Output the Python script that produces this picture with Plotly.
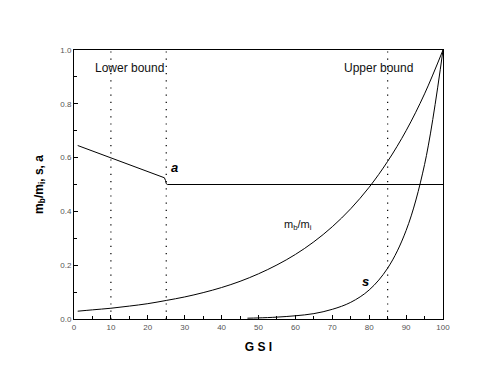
import plotly.graph_objects as go

# GSI values and read curve values
gsi_mb = [1, 5, 10, 15, 20, 25, 30, 35, 40, 45, 50, 55, 60, 65, 70, 75, 80, 85, 90, 95, 100]
mb_mi = [0.029, 0.034, 0.040, 0.048, 0.057, 0.069, 0.082, 0.098, 0.117, 0.140, 0.168,
         0.201, 0.240, 0.287, 0.343, 0.410, 0.490, 0.586, 0.700, 0.837, 1.0]

gsi_s = [47, 50, 55, 60, 65, 70, 75, 80, 85, 90, 95, 100]
s_vals = [0.003, 0.004, 0.007, 0.012, 0.020, 0.036, 0.062, 0.108, 0.189, 0.329, 0.574, 1.0]

gsi_a = [1, 5, 10, 15, 20, 24, 24.5, 24.8, 25, 25.3, 100]
a_vals = [0.645, 0.625, 0.600, 0.575, 0.550, 0.530, 0.525, 0.515, 0.503, 0.500, 0.500]

bounds = [10, 25, 85]

fig = go.Figure()
fig.add_trace(go.Scatter(x=gsi_mb, y=mb_mi, mode="lines", line=dict(color="black", width=1, shape="spline"), showlegend=False))
fig.add_trace(go.Scatter(x=gsi_s, y=s_vals, mode="lines", line=dict(color="black", width=1, shape="spline"), showlegend=False))
fig.add_trace(go.Scatter(x=gsi_a, y=a_vals, mode="lines", line=dict(color="black", width=1), showlegend=False))

for b in bounds:
    fig.add_shape(type="line", x0=b, x1=b, y0=0, y1=1, xref="x", yref="y",
                  line=dict(color="black", width=1.2, dash="1.2px,6px"))

fnt = "Liberation Sans, Arial, sans-serif"
fig.add_annotation(x=15, y=0.932, xref="x", yref="y", text="Lower bound", showarrow=False,
                   font=dict(family=fnt, size=12, color="#111"), xanchor="center")
fig.add_annotation(x=82.4, y=0.932, xref="x", yref="y", text="Upper bound", showarrow=False,
                   font=dict(family=fnt, size=12, color="#111"), xanchor="center")
fig.add_annotation(x=27.3, y=0.563, text="<b><i>a</i></b>", showarrow=False,
                   font=dict(family=fnt, size=13, color="black"))
fig.add_annotation(x=60.7, y=0.35, text="m<sub>b</sub>/m<sub>i</sub>", showarrow=False,
                   font=dict(family=fnt, size=11, color="#111"))
fig.add_annotation(x=78.9, y=0.14, text="<b><i>s</i></b>", showarrow=False,
                   font=dict(family=fnt, size=13, color="black"))

fig.update_layout(
    width=494, height=382,
    margin=dict(l=66, r=59, t=42, b=71),
    paper_bgcolor="white", plot_bgcolor="white",
    font=dict(family=fnt, size=8, color="#555"),
    xaxis=dict(range=[0, 100], dtick=10, tick0=0, ticks="inside", ticklen=4, tickcolor="black",
               showgrid=False, zeroline=False, showline=True, linecolor="black", linewidth=1, mirror=True,
               minor=dict(dtick=5, ticks="inside", ticklen=3, tickcolor="black"),
               title=dict(text="<b>G S I</b>", font=dict(family=fnt, size=12, color="black"), standoff=12),
               tickfont=dict(size=8, color="#555")),
    yaxis=dict(range=[0, 1], dtick=0.2, tick0=0, tickformat=".1f", ticks="inside", ticklen=4, tickcolor="black",
               showgrid=False, zeroline=False, showline=True, linecolor="black", linewidth=1, mirror=True,
               minor=dict(dtick=0.1, ticks="inside", ticklen=3, tickcolor="black"),
               title=dict(text="<b>m<sub>b</sub>/m<sub>i</sub>, s, a</b>", font=dict(family=fnt, size=12, color="black"), standoff=14),
               tickfont=dict(size=8, color="#555")),
)
fig.write_html("out.html")
